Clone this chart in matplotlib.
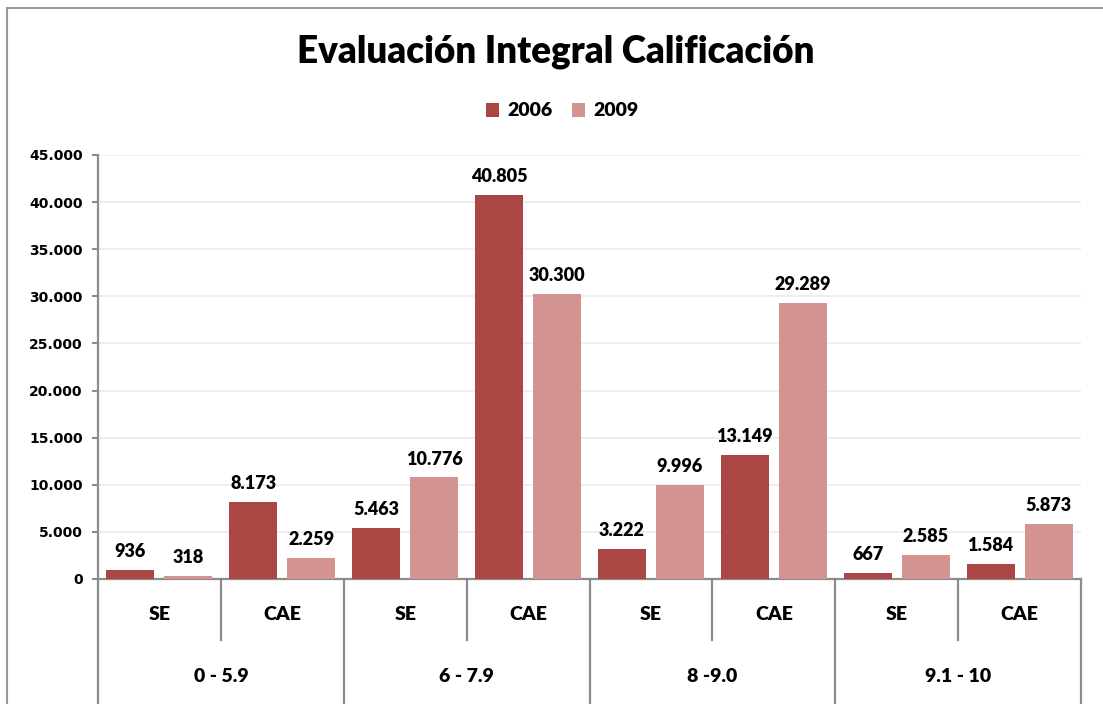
import matplotlib.pyplot as plt
import matplotlib.transforms as mtransforms
from matplotlib.lines import Line2D
import numpy as np

# data
sub_labels = ['SE', 'CAE', 'SE', 'CAE', 'SE', 'CAE', 'SE', 'CAE']
group_labels = ['0 - 5.9', '6 - 7.9', '8 -9.0', '9.1 - 10']
vals_2006 = [936, 8173, 5463, 40805, 3222, 13149, 667, 1584]
vals_2009 = [318, 2259, 10776, 30300, 9996, 29289, 2585, 5873]
y_ticks = [0, 5000, 10000, 15000, 20000, 25000, 30000, 35000, 40000, 45000]

dark = '#AA4745'
light = '#D39391'
axis_grey = '#8C8C8C'
lab_font = 'Lato'
num_font = 'DejaVu Sans'
wt = 'heavy'


def dots(v):
    return f'{v:,}'.replace(',', '.')


fig = plt.figure(figsize=(11.03, 7.04), dpi=100)
ax = fig.add_axes([98 / 1103, 1 - 579 / 704, (1081 - 98) / 1103, (579 - 155) / 704])

x = np.arange(len(sub_labels))
w = 0.39
off = 0.236
b1 = ax.bar(x - off, vals_2006, w, color=dark, label='2006', zorder=3)
b2 = ax.bar(x + off, vals_2009, w, color=light, label='2009', zorder=3)

for bars, vals in ((b1, vals_2006), (b2, vals_2009)):
    for r, v in zip(bars, vals):
        ax.annotate(dots(v), (r.get_x() + r.get_width() / 2, v), xytext=(0, 7),
                    textcoords='offset points', ha='center', va='bottom',
                    fontsize=13, fontweight=wt, family=lab_font)

ax.set_xlim(-0.5, len(sub_labels) - 0.5)
ax.set_ylim(0, 45000)
ax.set_yticks(y_ticks)
ax.set_yticklabels([dots(t) for t in y_ticks], fontsize=10, fontweight='bold', family=num_font)
ax.tick_params(axis='y', length=4, width=1.5, color=axis_grey, pad=7)
ax.set_xticks([])
ax.yaxis.grid(True, color='#EBEBEB', linewidth=1.2, zorder=0)
ax.set_axisbelow(True)

for s in ('top', 'right'):
    ax.spines[s].set_visible(False)
ax.spines['left'].set_color(axis_grey)
ax.spines['left'].set_linewidth(1.6)
ax.spines['bottom'].set_color(axis_grey)
ax.spines['bottom'].set_linewidth(1.6)

# multi-level category axis
trans = mtransforms.blended_transform_factory(ax.transData, ax.transAxes)
ax_h = 579 - 155
for i, lab in enumerate(sub_labels):
    ax.text(i, -35 / ax_h, lab, transform=trans, ha='center', va='center',
            fontsize=14, fontweight=wt, family=lab_font)
for g, lab in enumerate(group_labels):
    ax.text(2 * g + 0.5, -98 / ax_h, lab, transform=trans, ha='center', va='center',
            fontsize=14, fontweight=wt, family=lab_font)
for k in range(len(sub_labels) + 1):
    xs = k - 0.5
    y_end = -61 / ax_h if k % 2 == 1 else -130 / ax_h
    ax.add_line(Line2D([xs, xs], [0, y_end], transform=trans, color=axis_grey,
                       linewidth=1.6, clip_on=False))

leg = fig.legend(handles=[b1, b2], loc='center', bbox_to_anchor=(562 / 1103, 1 - 111 / 704),
                 ncol=2, frameon=False, handlelength=0.7, handleheight=0.7,
                 handletextpad=0.4, columnspacing=1.0,
                 prop={'family': lab_font, 'weight': wt, 'size': 14})

fig.text(556 / 1103, 1 - 52 / 704, 'Evaluación Integral Calificación', ha='center', va='center',
         fontsize=26.5, fontweight=wt, family=lab_font)

# chart area border (cropped)
fig.add_artist(Line2D([7 / 1103, 1], [1 - 8 / 704, 1 - 8 / 704], transform=fig.transFigure,
                      color='#9A9A9A', linewidth=1.5))
fig.add_artist(Line2D([7 / 1103, 7 / 1103], [0, 1 - 8 / 704], transform=fig.transFigure,
                      color='#9A9A9A', linewidth=1.5))

fig.savefig('out.png', dpi=100)
